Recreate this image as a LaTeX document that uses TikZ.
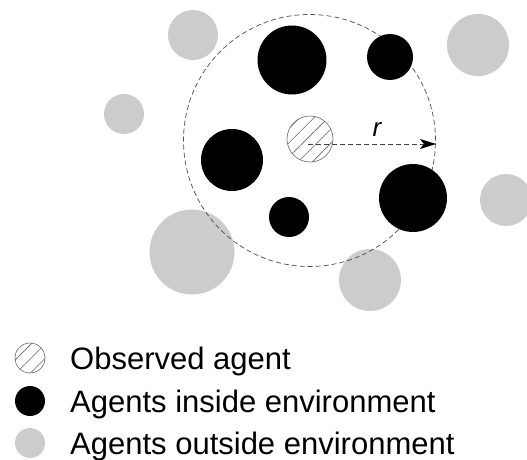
\documentclass[tikz,border=0pt]{standalone}
\usepackage{fontspec}
\setmainfont{Liberation Sans}
\usetikzlibrary{patterns.meta,arrows.meta}
\definecolor{outgray}{HTML}{CCCCCC}
\definecolor{hatchgray}{HTML}{666666}
\tikzset{
  inside/.style={circle,fill=black,draw=none,inner sep=0pt,minimum size=#1},
  outside/.style={circle,fill=outgray,draw=none,inner sep=0pt,minimum size=#1},
  observed/.style={circle,draw=hatchgray,line width=0.6pt,inner sep=0pt,minimum size=#1,
    pattern={Lines[angle=45,distance=10pt,line width=0.6pt]},pattern color=hatchgray},
  envcircle/.style={circle,draw=black!70,line width=0.7pt,dash pattern=on 5pt off 3pt,inner sep=0pt,minimum size=#1},
  legendtext/.style={anchor=base west,inner sep=0pt,font=\fontsize{31}{36}\selectfont},
  rtip/.tip={Stealth[length=16pt,width=10pt,inset=4pt,color=black]},
}
\begin{document}
\begin{tikzpicture}[x=1pt,y=-1pt]
\useasboundingbox (0,0) rectangle (527,460);
% outside agents
\node[outside=50] (o1) at (193,35) {};
\node[outside=62] (o2) at (478,45) {};
\node[outside=40] (o3) at (124,114) {};
\node[outside=52] (o4) at (506,200) {};
\node[outside=85] (o5) at (192,252) {};
\node[outside=62] (o6) at (370,280) {};
% environment
\node[envcircle=252] (env) at (309.5,140.5) {};
% inside agents
\node[inside=69] (i1) at (292,60) {};
\node[inside=46] (i2) at (390,57) {};
\node[inside=62] (i3) at (232,160) {};
\node[inside=40] (i4) at (289,217) {};
\node[inside=68] (i5) at (413,198) {};
% observed agent
\node[observed=46] (obs) at (310,139) {};
\coordinate (rstart) at (308,144);
\coordinate (rend) at (436,144);
\draw[black!75,line width=0.8pt,dash pattern=on 5pt off 3pt,-rtip] (rstart) -- (rend);
\node[font=\fontsize{26}{26}\selectfont\itshape,inner sep=0pt] (rlabel) at (377,130) {r};
% legend
\node[observed=30] (l1) at (30,358) {};
\node[inside=30] (l2) at (30,401) {};
\node[outside=30] (l3) at (30,443) {};
\node[legendtext] (t1) at (70,369) {Observed agent};
\node[legendtext] (t2) at (70,412) {Agents inside environment};
\node[legendtext] (t3) at (70,454) {Agents outside environment};
\end{tikzpicture}
\end{document}
